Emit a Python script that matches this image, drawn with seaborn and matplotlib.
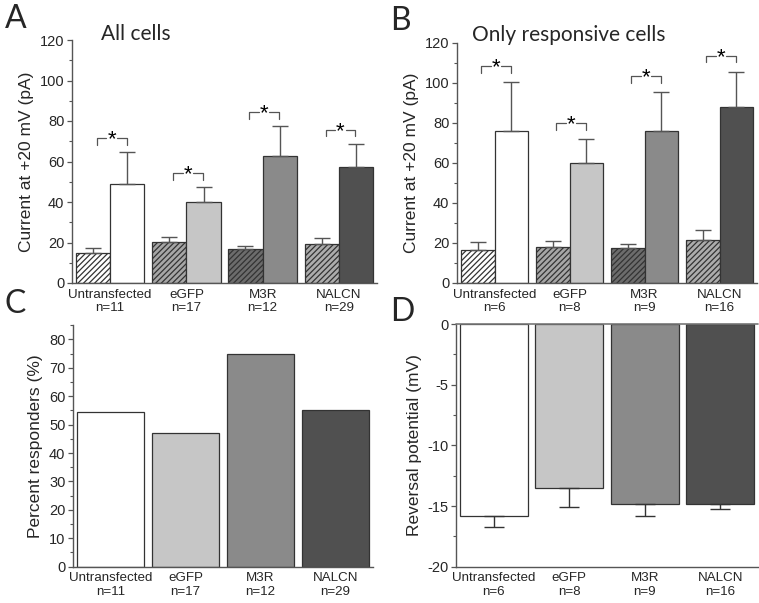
import numpy as np
import pandas as pd
import matplotlib
matplotlib.use('Agg')
import matplotlib.pyplot as plt
import seaborn as sns
from matplotlib.ticker import MultipleLocator

# ---------------- data ----------------
groups = ['Untransfected', 'eGFP', 'M3R', 'NALCN']
n_all = [11, 17, 12, 29]
n_resp = [6, 8, 9, 16]

# Panel A: all cells (pA at +20 mV), before (hatched) and after
a_ctrl_mean = [14.8, 20.2, 16.8, 19.2]
a_ctrl_sem = [2.5, 2.7, 1.3, 2.8]
a_act_mean = [48.8, 40.1, 62.8, 57.2]
a_act_sem = [15.8, 7.1, 14.5, 11.5]

# Panel B: only responsive cells
b_ctrl_mean = [16.3, 18.0, 17.5, 21.7]
b_ctrl_sem = [4.0, 3.2, 2.0, 5.0]
b_act_mean = [75.8, 60.2, 75.8, 87.8]
b_act_sem = [24.5, 11.8, 19.7, 17.9]

# Panel C: percent responders
pct_resp = [54.5, 47.1, 75.0, 55.2]

# Panel D: reversal potential (mV)
rev_mean = [-15.8, -13.5, -14.8, -14.85]
rev_sem = [0.95, 1.6, 1.0, 0.4]

# ---------------- style ----------------
sns.set_style('white')
plt.rcParams['font.family'] = ['Liberation Sans', 'DejaVu Sans']
plt.rcParams['hatch.linewidth'] = 0.9
plt.rcParams['axes.unicode_minus'] = False

act_colors = ['#ffffff', '#c6c6c6', '#8a8a8a', '#505050']
ctrl_faces = ['#ffffff', '#a6a6a6', '#6c6c6c', '#acacac']
spine_c = '#555555'
edge_c = '#333333'
letter_font = ['Lato', 'DejaVu Sans']

fig = plt.figure(figsize=(7.59, 6.03), dpi=100)

def fx(px):
    return px / 759.0

def fy(px):
    return 1 - px / 603.0

def style_axes(ax):
    for s in ['top', 'right']:
        ax.spines[s].set_visible(False)
    for s in ['left', 'bottom']:
        ax.spines[s].set_color(spine_c)
        ax.spines[s].set_linewidth(1.0)
    ax.tick_params(axis='y', which='major', direction='out', length=3.5, width=0.9,
                   color=spine_c, labelsize=10.5, pad=2, left=True)
    ax.tick_params(axis='y', which='minor', direction='out', length=2, width=0.8,
                   color=spine_c, left=True)
    ax.tick_params(axis='x', length=0, labelsize=9.6, pad=4)
    ax.set_xlabel('')


def current_panel(ax, cm, cs, am, asem, ns, off):
    df = pd.DataFrame({
        'group': groups * 2,
        'cond': ['ctrl'] * 4 + ['act'] * 4,
        'value': list(cm) + list(am),
    })
    sns.barplot(data=df, x='group', y='value', hue='cond', order=groups,
                hue_order=['ctrl', 'act'], ax=ax, errorbar=None, width=0.9,
                legend=False, saturation=1)
    ctrl_bars = ax.containers[0]
    act_bars = ax.containers[1]
    for i, bar in enumerate(ctrl_bars):
        bar.set_facecolor(ctrl_faces[i])
        bar.set_edgecolor(edge_c)
        bar.set_linewidth(0.9)
        bar.set_hatch('//////')
    for i, bar in enumerate(act_bars):
        bar.set_facecolor(act_colors[i])
        bar.set_edgecolor(edge_c)
        bar.set_linewidth(0.9)
    for bars, m, s in [(ctrl_bars, cm, cs), (act_bars, am, asem)]:
        xs = [b.get_x() + b.get_width() / 2 for b in bars]
        ax.errorbar(xs, m, yerr=[np.zeros(len(s)), s], fmt='none', ecolor='#555555',
                    elinewidth=1.0, capsize=5.5, capthick=1.0, zorder=1)
    # significance brackets
    for i in range(4):
        cb = ctrl_bars[i]
        ab = act_bars[i]
        x0 = cb.get_x() + cb.get_width() / 2 + 0.05
        x1 = ab.get_x() + ab.get_width() / 2 - 0.01
        xm = (x0 + x1) / 2
        y = am[i] + asem[i] + off
        drop = 3.3
        gap = 0.07
        ax.plot([x0, x0, xm - gap], [y - drop, y, y], color='#555555', lw=0.9)
        ax.plot([xm + gap, x1, x1], [y, y, y - drop], color='#555555', lw=0.9)
        ax.text(xm, y - 0.8, '*', ha='center', va='center', fontsize=16, color='black')
    ax.set_ylim(0, 120)
    ax.set_xlim(-0.5, 3.5)
    ax.yaxis.set_major_locator(MultipleLocator(20))
    ax.yaxis.set_minor_locator(MultipleLocator(10))
    ax.set_xticks(range(4))
    ax.set_xticklabels([f'{g}\nn={n}' for g, n in zip(groups, ns)])
    ax.set_ylabel('Current at +20 mV (pA)', fontsize=12.5, labelpad=4)
    style_axes(ax)


# Panel A
axA = fig.add_axes([fx(72), fy(283), fx(305), (283 - 40) / 603.0])
current_panel(axA, a_ctrl_mean, a_ctrl_sem, a_act_mean, a_act_sem, n_all, 7)
axA.text(101 / 759, fy(40), 'All cells', transform=fig.transFigure, fontsize=15,
         family=letter_font, ha='left', va='baseline')

# Panel B
axB = fig.add_axes([fx(457), fy(283), fx(300), (283 - 43) / 603.0])
current_panel(axB, b_ctrl_mean, b_ctrl_sem, b_act_mean, b_act_sem, n_resp, 8)
axB.text(569 / 759, fy(41), 'Only responsive cells', transform=fig.transFigure,
         fontsize=15, family=letter_font, ha='center', va='baseline')

# Panel C
axC = fig.add_axes([fx(73), fy(566.7), fx(300), 241.6 / 603.0])
dfc = pd.DataFrame({'group': groups, 'pct': pct_resp})
sns.barplot(data=dfc, x='group', y='pct', hue='group', order=groups, ax=axC,
            palette=act_colors, errorbar=None, width=0.9, legend=False, saturation=1)
for bar in axC.patches:
    bar.set_edgecolor(edge_c)
    bar.set_linewidth(0.9)
axC.set_ylim(0, 85)
axC.set_xlim(-0.5, 3.5)
axC.yaxis.set_major_locator(MultipleLocator(10))
axC.yaxis.set_minor_locator(MultipleLocator(5))
axC.set_xticks(range(4))
axC.set_xticklabels([f'{g}\nn={n}' for g, n in zip(groups, n_all)])
axC.set_ylabel('Percent responders (%)', fontsize=12.5, labelpad=4)
style_axes(axC)

# Panel D
axD = fig.add_axes([fx(456), fy(566.7), fx(302), 242.7 / 603.0])
dfd = pd.DataFrame({'group': groups, 'rev': rev_mean})
sns.barplot(data=dfd, x='group', y='rev', hue='group', order=groups, ax=axD,
            palette=act_colors, errorbar=None, width=0.9, legend=False, saturation=1)
for bar in axD.patches:
    bar.set_edgecolor(edge_c)
    bar.set_linewidth(0.9)
xsD = [b.get_x() + b.get_width() / 2 for b in axD.patches]
axD.errorbar(xsD, rev_mean, yerr=[rev_sem, np.zeros(len(rev_sem))], fmt='none',
             ecolor='#333333', elinewidth=1.0, capsize=7, capthick=1.0, zorder=3)
axD.axhline(0, color='#777777', lw=1.2, clip_on=False, zorder=4)
axD.set_ylim(-20, 0)
axD.set_xlim(-0.5, 3.5)
axD.yaxis.set_major_locator(MultipleLocator(5))
axD.yaxis.set_minor_locator(MultipleLocator(2.5))
axD.set_xticks(range(4))
axD.set_xticklabels([f'{g}\nn={n}' for g, n in zip(groups, n_resp)])
axD.set_ylabel('Reversal potential (mV)', fontsize=12.5, labelpad=4)
style_axes(axD)

# panel letters
for lab, x, y in [('A', 5, 28), ('B', 390, 30), ('C', 5, 313), ('D', 390, 321)]:
    fig.text(fx(x), fy(y), lab, fontsize=23, family=letter_font, ha='left', va='baseline')

fig.savefig('out.png', dpi=100)
